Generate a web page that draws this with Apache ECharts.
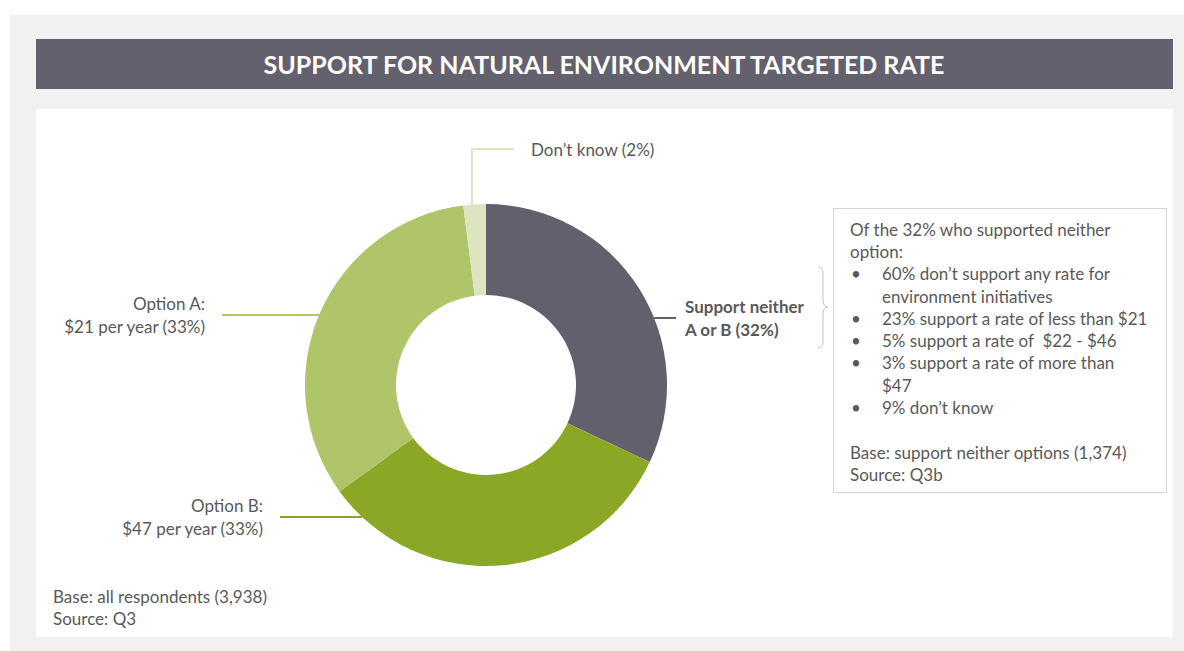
<!DOCTYPE html>
<html>
<head>
<meta charset="utf-8">
<script src="https://cdn.jsdelivr.net/npm/echarts@6/dist/echarts.min.js"></script>
<style>
  html, body { margin: 0; padding: 0; background: #fff; }
  #chart { width: 1184px; height: 651px; }
</style>
</head>
<body>
<div id="chart"></div>
<script>
// slices, clockwise from 12 o'clock
const categories = ['Support neither\nA or B', 'Option B:\n$47 per year', 'Option A:\n$21 per year', 'Don\u2019t know'];
const shares = [32, 33, 33, 2];
const sliceColors = ['#63606d', '#8aa826', '#b0c46a', '#dde5c0'];

// note box on the right
const noteIntro = 'Of the 32% who supported neither\noption:';
const noteBullets = [
  '60% don\u2019t support any rate for\nenvironment initiatives',
  '23% support a rate of less than $21',
  '5% support a rate of  $22 - $46',
  '3% support a rate of more than\n$47',
  '9% don\u2019t know'
];
const noteFooter = 'Base: support neither options (1,374)\nSource: Q3b';
const chartFooter = 'Base: all respondents (3,938)\nSource: Q3';

const FONT = 'Lato, "Open Sans", sans-serif';
const FS = 17;
const TEXT = '#595959';
const LH = 22.3;

// pie geometry
const cx = 486, cy = 385, rIn = 90, rOut = 181;

// y of each leader line and which side of the pie it leaves from
const leaders = [
  { y: 318, side: 1, end: 676, labelX: 685, align: 'left' },
  { y: 517, side: -1, end: 280, labelX: 263, align: 'right' },
  { y: 315, side: -1, end: 222, labelX: 205, align: 'right' },
  { x: 472, y: 149, end: 514, labelX: 531, align: 'left' }
];

function arcX(y, side) {
  return cx + side * Math.sqrt(rOut * rOut - (y - cy) * (y - cy));
}
function arcY(x) {
  return cy - Math.sqrt(rOut * rOut - (x - cx) * (x - cx));
}

const chart = echarts.init(document.getElementById('chart'), null, { renderer: 'svg' });

function textEl(x, y, text) {
  return {
    type: 'text', x, y,
    style: { text, font: FS + 'px ' + FONT, fill: TEXT, lineHeight: LH, verticalAlign: 'top' }
  };
}

// note box text elements
const noteEls = [];
let ny = 218;
noteEls.push(textEl(850, ny, noteIntro));
ny += LH * 2;
noteBullets.forEach(b => {
  noteEls.push(textEl(851, ny, '\u2022'));
  noteEls.push(textEl(882, ny, b));
  ny += LH * b.split('\n').length;
});
ny += LH;
noteEls.push(textEl(850, ny, noteFooter));

// curly brace between the pie label and the note box
const braceStyle = { fill: 'none', stroke: '#c4c4c4', lineWidth: 1 };
const brace = [
  { type: 'bezierCurve', shape: { x1: 818, y1: 267, cpx1: 823, cpy1: 267, x2: 823, y2: 273 } },
  { type: 'line', shape: { x1: 823, y1: 273, x2: 823, y2: 300 } },
  { type: 'bezierCurve', shape: { x1: 823, y1: 300, cpx1: 823, cpy1: 307, x2: 828, y2: 307 } },
  { type: 'bezierCurve', shape: { x1: 828, y1: 307, cpx1: 823, cpy1: 307, x2: 823, y2: 314 } },
  { type: 'line', shape: { x1: 823, y1: 314, x2: 823, y2: 342 } },
  { type: 'bezierCurve', shape: { x1: 823, y1: 342, cpx1: 823, cpy1: 348, x2: 818, y2: 348 } }
].map(e => Object.assign(e, { z: -8, style: braceStyle }));

const option = {
  animation: false,
  backgroundColor: '#fff',
  title: {
    text: 'SUPPORT FOR NATURAL ENVIRONMENT TARGETED RATE',
    left: 604,
    textAlign: 'center',
    top: 49,
    padding: 0,
    textStyle: { color: '#fff', fontFamily: FONT, fontWeight: 'bold', fontSize: 25, lineHeight: 30 }
  },
  graphic: [
    { type: 'rect', z: -10, shape: { x: 10, y: 15, width: 1174, height: 636 }, style: { fill: '#f1f1f1' } },
    { type: 'rect', z: -9, shape: { x: 36, y: 39, width: 1137, height: 50 }, style: { fill: '#63616e' } },
    { type: 'rect', z: -9, shape: { x: 36, y: 109, width: 1137, height: 528 }, style: { fill: '#fff' } },
    { type: 'rect', z: -8, shape: { x: 833.5, y: 208.5, width: 333, height: 284 }, style: { fill: '#fff', stroke: '#d4d4d4', lineWidth: 1 } },
    ...brace,
    ...noteEls,
    textEl(53, 585, chartFooter)
  ],
  series: [{
    type: 'pie',
    center: [cx, cy],
    radius: [rIn, rOut],
    startAngle: 90,
    clockwise: true,
    silent: true,
    data: categories.map((name, i) => ({
      name,
      value: shares[i],
      itemStyle: { color: sliceColors[i] },
      label: i === 0 ? { fontWeight: 'bold' } : {}
    })),
    label: {
      show: true,
      formatter: p => `${p.name} (${p.value}%)`,
      color: TEXT,
      fontFamily: FONT,
      fontSize: FS,
      lineHeight: LH
    },
    labelLine: { show: true, lineStyle: { width: 2 } },
    labelLayout: p => {
      const l = leaders[p.dataIndex];
      let pts;
      if (l.x != null) {
        pts = [[l.x, arcY(l.x)], [l.x, l.y], [l.end, l.y]];
      } else {
        pts = [[arcX(l.y, l.side), l.y], [l.end, l.y]];
      }
      return {
        x: l.labelX,
        y: l.y,
        align: l.align,
        verticalAlign: 'middle',
        labelLinePoints: pts
      };
    }
  }]
};

chart.setOption(option);
</script>
</body>
</html>
